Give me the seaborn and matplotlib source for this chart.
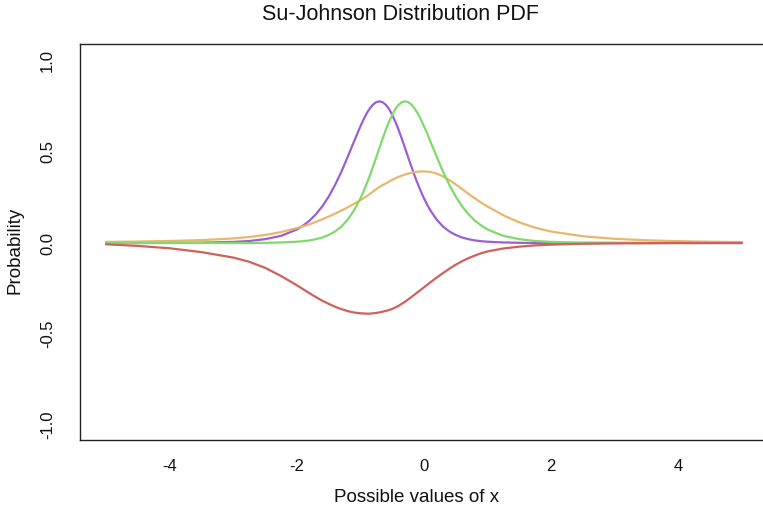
import matplotlib
matplotlib.use("Agg")
import matplotlib.pyplot as plt
import seaborn as sns
import pandas as pd

# ---- data ----
x_vals = [-5.0, -4.5, -4.0, -3.5, -3.0, -2.75, -2.5, -2.25,
          -2.0, -1.9, -1.8, -1.7, -1.6, -1.5, -1.4, -1.3, -1.2, -1.1,
          -1.0, -0.95, -0.9, -0.85, -0.8, -0.75, -0.7, -0.65, -0.6, -0.55,
          -0.5, -0.45, -0.4, -0.35, -0.3, -0.25, -0.2, -0.15, -0.1, -0.05,
          0.0, 0.05,
          0.1, 0.2, 0.3, 0.4, 0.5, 0.6, 0.7, 0.8, 0.9, 1.0,
          1.25, 1.5, 1.75, 2.0, 2.5, 3.0, 3.5, 4.0, 4.5, 5.0]

purple = [0.000, 0.000, 0.001, 0.002, 0.006, 0.011, 0.021, 0.039,
          0.074, 0.096, 0.123, 0.158, 0.201, 0.254, 0.318, 0.391, 0.473, 0.558,
          0.641, 0.679, 0.713, 0.740, 0.761, 0.774, 0.778, 0.773, 0.759, 0.736,
          0.704, 0.666, 0.622, 0.574, 0.523, 0.472, 0.421, 0.372, 0.327, 0.284,
          0.245, 0.211,
          0.179, 0.128, 0.090, 0.063, 0.044, 0.030, 0.021, 0.014, 0.010, 0.007,
          0.003, 0.001, 0.000, 0.000, 0.000, 0.000, 0.000, 0.000, 0.000, 0.000]

green = [0.000, 0.000, 0.000, 0.000, 0.000, 0.000, 0.001, 0.003,
         0.007, 0.010, 0.014, 0.021, 0.030, 0.044, 0.063, 0.090, 0.128, 0.179,
         0.245, 0.284, 0.327, 0.372, 0.421, 0.472, 0.523, 0.574, 0.622, 0.666,
         0.704, 0.736, 0.759, 0.773, 0.778, 0.774, 0.761, 0.740, 0.713, 0.679,
         0.641, 0.602,
         0.558, 0.473, 0.391, 0.318, 0.254, 0.201, 0.158, 0.123, 0.096, 0.074,
         0.039, 0.021, 0.011, 0.006, 0.002, 0.001, 0.000, 0.000, 0.000, 0.000]

orange = [0.006, 0.008, 0.011, 0.016, 0.025, 0.033, 0.044, 0.060,
          0.082, 0.092, 0.103, 0.116, 0.130, 0.145, 0.161, 0.178, 0.196, 0.215,
          0.235, 0.246, 0.257, 0.270, 0.283, 0.296, 0.308, 0.318, 0.327, 0.337,
          0.347, 0.355, 0.363, 0.370, 0.376, 0.381, 0.386, 0.389, 0.392, 0.393,
          0.393, 0.392,
          0.390, 0.381, 0.366, 0.345, 0.322, 0.296, 0.270, 0.245, 0.222, 0.200,
          0.152, 0.113, 0.084, 0.063, 0.037, 0.023, 0.015, 0.010, 0.007, 0.005]

red = [-0.007, -0.016, -0.029, -0.050, -0.080, -0.103, -0.136, -0.181,
       -0.232, -0.254, -0.276, -0.297, -0.317, -0.334, -0.350, -0.363, -0.374, -0.382,
       -0.386, -0.387, -0.388, -0.388, -0.386, -0.384, -0.381, -0.377, -0.373, -0.368,
       -0.362, -0.354, -0.345, -0.334, -0.323, -0.310, -0.297, -0.284, -0.270, -0.257,
       -0.243, -0.230,
       -0.216, -0.190, -0.165, -0.141, -0.119, -0.100, -0.083, -0.069, -0.056, -0.046,
       -0.030, -0.020, -0.013, -0.009, -0.004, -0.002, -0.001, 0.000, 0.000, 0.000]

series_names = ["purple", "orange", "green", "red"]
series_colors = ["#9b5fd3", "#e8b76c", "#80d96c", "#d0605c"]

x_ticks = [-4, -2, 0, 2, 4]
y_ticks = [-1.0, -0.5, 0.0, 0.5, 1.0]
y_tick_labels = ["-1.0", "-0.5", "0.0", "0.5", "1.0"]

title = "Su-Johnson Distribution PDF"
x_label = "Possible values of x"
y_label = "Probability"

# ---- long-form table ----
values = {"purple": purple, "orange": orange, "green": green, "red": red}
rows = []
for name in series_names:
    for xv, yv in zip(x_vals, values[name]):
        rows.append({"x": xv, "y": yv, "series": name})
df = pd.DataFrame(rows)

sns.set_theme(style="white")
plt.rcParams["font.family"] = ["Liberation Sans", "DejaVu Sans"]

W, H = 763, 513
fig = plt.figure(figsize=(W / 100, H / 100), dpi=100)
ax = fig.add_axes([80 / W, 1 - 440 / H, 688 / W, 396 / H])

sns.lineplot(data=df, x="x", y="y", hue="series", hue_order=series_names,
             palette=dict(zip(series_names, series_colors)), estimator=None,
             sort=False, linewidth=1.6, legend=False, ax=ax)
for line in ax.lines:
    line.set_solid_joinstyle("round")
    line.set_solid_capstyle("round")

ax.set_xlim(-5.41, 5.41)
ax.set_ylim(-1.082, 1.093)
ax.set_xticks(x_ticks)
ax.set_xticklabels([str(t) for t in x_ticks])
ax.set_yticks(y_ticks)
ax.set_yticklabels(y_tick_labels, rotation=90, va="center")
ax.set_xlabel("")
ax.set_ylabel("")

for sp in ax.spines.values():
    sp.set_visible(True)
    sp.set_color("#222222")
    sp.set_linewidth(1.0)

ax.tick_params(axis="both", direction="out", length=7, width=1.0,
               color="#222222", labelsize=12, labelcolor="#111111", pad=7)
ax.tick_params(axis="y", pad=11)

fig.text(400 / W, 1 - 15 / H, title, ha="center", va="center",
         fontsize=15.5, color="#111111")
fig.text(417 / W, 1 - 498 / H, x_label, ha="center", va="center",
         fontsize=13.5, color="#111111")
fig.text(15 / W, 1 - 250 / H, y_label, ha="center", va="center",
         rotation=90, fontsize=13.5, color="#111111")

fig.savefig("out.png", dpi=100)
